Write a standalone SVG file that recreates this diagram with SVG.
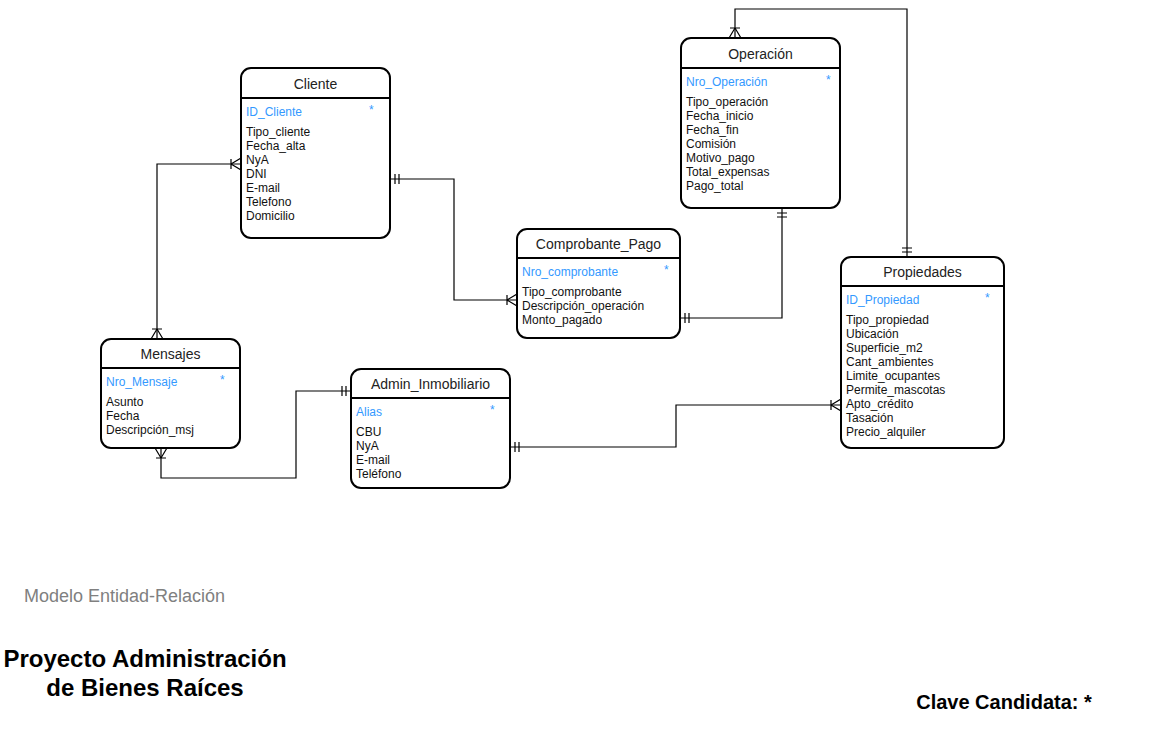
<svg xmlns="http://www.w3.org/2000/svg" width="1150" height="737" viewBox="0 0 1150 737">
<style>
.box{fill:#fff;stroke:#000;stroke-width:2}
.hdr{stroke:#000;stroke-width:2}
.title{font-family:"Liberation Sans",Arial,sans-serif;font-size:14px;fill:#222;text-anchor:middle}
.key{font-family:"Liberation Sans",Arial,sans-serif;font-size:12px;fill:#3399FF}
.attr{font-family:"Liberation Sans",Arial,sans-serif;font-size:12px;fill:#111}
.conn{fill:none;stroke:#000;stroke-width:1.2}
</style>
<defs>
<marker id="one" viewBox="0 0 20 20" refX="20" refY="10" markerWidth="20" markerHeight="20" markerUnits="userSpaceOnUse" orient="auto-start-reverse">
<path d="M11,5V15M15,5V15" fill="none" stroke="#000" stroke-width="1.2"/>
</marker>
<marker id="many" viewBox="0 0 20 20" refX="20" refY="10" markerWidth="20" markerHeight="20" markerUnits="userSpaceOnUse" orient="auto-start-reverse">
<path d="M10,5V15M10,10L20,4M10,10L20,16" fill="none" stroke="#000" stroke-width="1.2"/>
</marker>
</defs>
<rect width="1150" height="737" fill="#fff"/>
<g id="connectors">
<path class="conn" d="M241,164H157V339" marker-start="url(#many)" marker-end="url(#many)"/>
<path class="conn" d="M390,179H454V300H517" marker-start="url(#one)" marker-end="url(#many)"/>
<path class="conn" d="M782,208V318H680" marker-start="url(#one)" marker-end="url(#one)"/>
<path class="conn" d="M907,257V9H735V38" marker-start="url(#one)" marker-end="url(#many)"/>
<path class="conn" d="M510,447H676V405H841" marker-start="url(#one)" marker-end="url(#many)"/>
<path class="conn" d="M351,391H296V478H161V448" marker-start="url(#one)" marker-end="url(#many)"/>
</g>
<g id="cliente">
<rect class="box" x="241" y="68" width="149" height="170" rx="10"/>
<line class="hdr" x1="241" y1="98" x2="390" y2="98"/>
<text class="title" x="315.5" y="89">Cliente</text>
<text class="key" x="246" y="116">ID_Cliente</text>
<text class="key" x="369" y="114">*</text>
<text class="attr" x="246" y="136">Tipo_cliente</text>
<text class="attr" x="246" y="150">Fecha_alta</text>
<text class="attr" x="246" y="164">NyA</text>
<text class="attr" x="246" y="178">DNI</text>
<text class="attr" x="246" y="192">E-mail</text>
<text class="attr" x="246" y="206">Telefono</text>
<text class="attr" x="246" y="220">Domicilio</text>
</g>
<g id="operacion">
<rect class="box" x="681" y="38" width="159" height="170" rx="10"/>
<line class="hdr" x1="681" y1="68" x2="840" y2="68"/>
<text class="title" x="760.5" y="59">Operación</text>
<text class="key" x="686" y="86">Nro_Operación</text>
<text class="key" x="826" y="84">*</text>
<text class="attr" x="686" y="106">Tipo_operación</text>
<text class="attr" x="686" y="120">Fecha_inicio</text>
<text class="attr" x="686" y="134">Fecha_fin</text>
<text class="attr" x="686" y="148">Comisión</text>
<text class="attr" x="686" y="162">Motivo_pago</text>
<text class="attr" x="686" y="176">Total_expensas</text>
<text class="attr" x="686" y="190">Pago_total</text>
</g>
<g id="comprobante_pago">
<rect class="box" x="517" y="229" width="163" height="109" rx="10"/>
<line class="hdr" x1="517" y1="258" x2="680" y2="258"/>
<text class="title" x="598.5" y="249">Comprobante_Pago</text>
<text class="key" x="522" y="276">Nro_comprobante</text>
<text class="key" x="664" y="274">*</text>
<text class="attr" x="522" y="296">Tipo_comprobante</text>
<text class="attr" x="522" y="310">Descripción_operación</text>
<text class="attr" x="522" y="324">Monto_pagado</text>
</g>
<g id="propiedades">
<rect class="box" x="841" y="257" width="163" height="191" rx="10"/>
<line class="hdr" x1="841" y1="286" x2="1004" y2="286"/>
<text class="title" x="922.5" y="277">Propiedades</text>
<text class="key" x="846" y="304">ID_Propiedad</text>
<text class="key" x="985" y="302">*</text>
<text class="attr" x="846" y="324">Tipo_propiedad</text>
<text class="attr" x="846" y="338">Ubicación</text>
<text class="attr" x="846" y="352">Superficie_m2</text>
<text class="attr" x="846" y="366">Cant_ambientes</text>
<text class="attr" x="846" y="380">Limite_ocupantes</text>
<text class="attr" x="846" y="394">Permite_mascotas</text>
<text class="attr" x="846" y="408">Apto_crédito</text>
<text class="attr" x="846" y="422">Tasación</text>
<text class="attr" x="846" y="436">Precio_alquiler</text>
</g>
<g id="mensajes">
<rect class="box" x="101" y="339" width="139" height="109" rx="10"/>
<line class="hdr" x1="101" y1="368" x2="240" y2="368"/>
<text class="title" x="170.5" y="359">Mensajes</text>
<text class="key" x="106" y="386">Nro_Mensaje</text>
<text class="key" x="220" y="384">*</text>
<text class="attr" x="106" y="406">Asunto</text>
<text class="attr" x="106" y="420">Fecha</text>
<text class="attr" x="106" y="434">Descripción_msj</text>
</g>
<g id="admin_inmobiliario">
<rect class="box" x="351" y="369" width="159" height="119" rx="10"/>
<line class="hdr" x1="351" y1="398" x2="510" y2="398"/>
<text class="title" x="430.5" y="389">Admin_Inmobiliario</text>
<text class="key" x="356" y="416">Alias</text>
<text class="key" x="490" y="414">*</text>
<text class="attr" x="356" y="436">CBU</text>
<text class="attr" x="356" y="450">NyA</text>
<text class="attr" x="356" y="464">E-mail</text>
<text class="attr" x="356" y="478">Teléfono</text>
</g>
<g id="labels">
<text x="24" y="602" font-family="Liberation Sans, Arial, sans-serif" font-size="18" fill="#808080">Modelo Entidad-Relación</text>
<text x="145" y="667" font-family="Liberation Sans, Arial, sans-serif" font-size="24" font-weight="bold" fill="#000" text-anchor="middle">Proyecto Administración</text>
<text x="145" y="696" font-family="Liberation Sans, Arial, sans-serif" font-size="24" font-weight="bold" fill="#000" text-anchor="middle">de Bienes Raíces</text>
<text x="1004" y="709" font-family="Liberation Sans, Arial, sans-serif" font-size="20" font-weight="bold" fill="#000" text-anchor="middle">Clave Candidata: *</text>
</g>
</svg>
